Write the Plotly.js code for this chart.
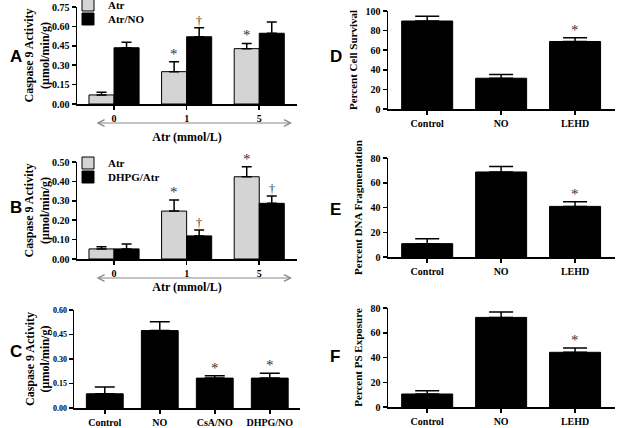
<!DOCTYPE html>
<html>
<head>
<meta charset="utf-8">
<script src="https://cdn.plot.ly/plotly-3.0.1.min.js"></script>
<style>html,body{margin:0;padding:0;background:#fff;}#chart{width:617px;height:428px;}</style>
</head>
<body>
<div id="chart"></div>
<script>
// ---------- DATA ----------
const atrDose = ['0', '1', '5'];
// Panel A
const aAtrMean = [0.07, 0.25, 0.428];
const aAtrSem = [0.02, 0.077, 0.04];
const aAtrNoMean = [0.435, 0.52, 0.547];
const aAtrNoSem = [0.042, 0.07, 0.087];
const aAtrMarks = ['', '*', '*'];
const aAtrNoMarks = ['', '†', ''];
// Panel B
const bAtrMean = [0.052, 0.247, 0.424];
const bAtrSem = [0.011, 0.057, 0.052];
const bDhpgMean = [0.052, 0.119, 0.287];
const bDhpgSem = [0.025, 0.031, 0.038];
const bAtrMarks = ['', '*', '*'];
const bDhpgMarks = ['', '†', '†'];
// Panel C
const cCats = ['Control', 'NO', 'CsA/NO', 'DHPG/NO'];
const cMean = [0.087, 0.474, 0.183, 0.183];
const cSem = [0.041, 0.054, 0.014, 0.03];
const cMarks = ['', '', '*', '*'];
// Panels D-F
const dfCats = ['Control', 'NO', 'LEHD'];
const dMean = [89.8, 31.4, 68.9];
const dSem = [4.8, 3.7, 3.7];
const eMean = [10.8, 68.7, 40.9];
const eSem = [4.0, 4.5, 3.8];
const fMean = [10.5, 72.4, 44.2];
const fSem = [2.7, 4.4, 3.5];
const dfMarks = ['', '', '*'];

// ---------- STYLE ----------
const W = 617, H = 428;
const SERIF = 'Liberation Serif, Times New Roman, serif';
const SANS = 'Liberation Sans, Arial, sans-serif';
const GREY = '#d4d4d4';
const INK = '#000';
const px = v => v / W;
const py = v => 1 - v / H;
const GW = 0.345; // grouped bar width

function errY(sem, w) {
  return {type: 'data', array: sem, arrayminus: sem.map(() => 0), symmetric: false,
          color: INK, thickness: 1.5, width: w};
}
function groupBar(cats, mean, sem, color, name, ax, side, legend) {
  return {type: 'bar', x: cats, y: mean, name: name, xaxis: 'x' + ax, yaxis: 'y' + ax,
          offset: side < 0 ? -GW : 0, width: GW,
          marker: {color: color, line: {color: INK, width: 1}},
          error_y: errY(sem, 5), legend: legend, showlegend: true, hoverinfo: 'skip'};
}
function singleBar(cats, mean, sem, ax, w, ew) {
  return {type: 'bar', x: cats, y: mean, xaxis: 'x' + ax, yaxis: 'y' + ax, width: w,
          marker: {color: INK, line: {color: INK, width: 1}},
          error_y: errY(sem, ew), showlegend: false, hoverinfo: 'skip'};
}

const traces = [
  groupBar(atrDose, aAtrMean, aAtrSem, GREY, 'Atr', '', -1, 'legend'),
  groupBar(atrDose, aAtrNoMean, aAtrNoSem, INK, 'Atr/NO', '', 1, 'legend2'),
  groupBar(atrDose, bAtrMean, bAtrSem, GREY, 'Atr', '2', -1, 'legend3'),
  groupBar(atrDose, bDhpgMean, bDhpgSem, INK, 'DHPG/Atr', '2', 1, 'legend4'),
  singleBar(cCats, cMean, cSem, '3', 0.67, 10),
  singleBar(dfCats, dMean, dSem, '4', 0.69, 12),
  singleBar(dfCats, eMean, eSem, '5', 0.69, 12),
  singleBar(dfCats, fMean, fSem, '6', 0.69, 12)
];

const tickFont = (s) => ({family: SERIF, size: s, color: INK, weight: 'bold'});

function xAx(dom, range, anchor, title, tsize, standoff) {
  const o = {domain: dom, range: range, anchor: anchor, type: 'category',
    showline: true, linewidth: 1.5, linecolor: INK, ticks: 'outside', ticklen: 4, tickwidth: 1.5,
    tickcolor: INK, showgrid: false, zeroline: false, tickfont: tickFont(tsize), fixedrange: true,
    automargin: true};
  if (title) o.title = {text: title, font: {family: SERIF, size: 12, color: INK, weight: 'bold'}, standoff: standoff};
  return o;
}
function yAx(dom, range, dtick, fmt, anchor, title, tsize, tfs, standoff) {
  return {domain: dom, range: range, dtick: dtick, tickformat: fmt, anchor: anchor,
    showline: true, linewidth: 1.5, linecolor: INK, ticks: 'outside', ticklen: 4, tickwidth: 1.5,
    tickcolor: INK, showgrid: false, zeroline: false, tickfont: tickFont(tsize), fixedrange: true,
    automargin: true,
    title: {text: title, font: {family: SERIF, size: tfs, color: INK, weight: 'bold'}, standoff: standoff}};
}

const casp = 'Caspase 9 Activity<br>(μmol/min/g)';
const layout = {
  width: W, height: H, margin: {l: 0, r: 0, t: 0, b: 0, autoexpand: false},
  paper_bgcolor: '#fff', plot_bgcolor: '#fff', barmode: 'group', showlegend: true,
  xaxis: xAx([px(77), px(297)], [-0.51, 2.52], 'y', 'Atr (mmol/L)', 10, 10),
  yaxis: yAx([py(104), py(7)], [0, 0.75], 0.15, '.2f', 'x', casp, 10, 12, 0),
  xaxis2: xAx([px(77), px(297)], [-0.51, 2.52], 'y2', 'Atr (mmol/L)', 10, 5),
  yaxis2: yAx([py(259), py(162)], [0, 0.5], 0.1, '.2f', 'x2', casp, 10, 12, 0),
  xaxis3: xAx([px(74), px(300)], [-0.56, 3.55], 'y3', null, 10),
  yaxis3: yAx([py(408), py(310)], [0, 0.6], 0.15, '.2f', 'x3', casp, 8, 12, 0),
  xaxis4: xAx([px(388), px(615)], [-0.53, 2.54], 'y4', null, 10),
  yaxis4: yAx([py(109), py(11)], [0, 100], 20, '', 'x4', 'Percent Cell Survival', 10, 11, 5),
  xaxis5: xAx([px(388), px(615)], [-0.53, 2.54], 'y5', null, 10),
  yaxis5: yAx([py(257), py(158)], [0, 80], 20, '', 'x5', 'Percent DNA Fragmentation', 10, 11, 5),
  xaxis6: xAx([px(388), px(615)], [-0.53, 2.54], 'y6', null, 10),
  yaxis6: yAx([py(407), py(308)], [0, 80], 20, '', 'x6', 'Percent PS Exposure', 10, 11, 5),
  annotations: [],
  hovermode: false
};

const legFont = {family: SERIF, size: 11, color: INK, weight: 'bold'};
function leg(xp, yp) {
  return {x: px(xp), y: py(yp), xanchor: 'left', yanchor: 'middle', bgcolor: 'rgba(0,0,0,0)',
          font: legFont, itemwidth: 30, tracegroupgap: 0};
}
layout.legend = leg(68, 5);
layout.legend2 = leg(68, 19);
layout.legend3 = leg(68, 163);
layout.legend4 = leg(68, 177);

// significance marks
function marks(mean, sem, symbols, ax, shift) {
  symbols.forEach((s, i) => {
    if (!s) return;
    layout.annotations.push({x: i + shift, y: mean[i] + sem[i], xref: 'x' + ax, yref: 'y' + ax,
      text: s, showarrow: false, yanchor: 'bottom', yshift: -2,
      font: {family: SERIF, size: s === '*' ? 15 : 12, color: '#333'}});
  });
}
marks(aAtrMean, aAtrSem, aAtrMarks, '', -GW / 2);
marks(aAtrNoMean, aAtrNoSem, aAtrNoMarks, '', GW / 2);
marks(bAtrMean, bAtrSem, bAtrMarks, '2', -GW / 2);
marks(bDhpgMean, bDhpgSem, bDhpgMarks, '2', GW / 2);
marks(cMean, cSem, cMarks, '3', 0);
marks(dMean, dSem, dfMarks, '4', 0);
marks(eMean, eSem, dfMarks, '5', 0);
marks(fMean, fSem, dfMarks, '6', 0);

// double-headed dose arrows
[123, 278].forEach(yy => {
  layout.annotations.push({xref: 'paper', yref: 'paper', axref: 'paper', ayref: 'paper',
    x: px(292), y: py(yy), ax: px(95), ay: py(yy), text: '', showarrow: true,
    arrowside: 'end+start', arrowhead: 5, startarrowhead: 5, arrowsize: 1.3, startarrowsize: 1.3,
    arrowwidth: 1, arrowcolor: '#888', standoff: 0, startstandoff: 0});
});

// panel letters
[['A', 8, 56], ['B', 8, 207], ['C', 8, 351], ['D', 328, 56], ['E', 328, 209], ['F', 328, 356]]
  .forEach(([t, xx, yy]) => {
    layout.annotations.push({xref: 'paper', yref: 'paper', x: px(xx), y: py(yy),
      xanchor: 'left', yanchor: 'middle', text: t, showarrow: false,
      font: {family: SANS, size: 17, color: INK, weight: 'bold'}});
  });

Plotly.newPlot('chart', traces, layout, {staticPlot: true, displayModeBar: false});
</script>
</body>
</html>
